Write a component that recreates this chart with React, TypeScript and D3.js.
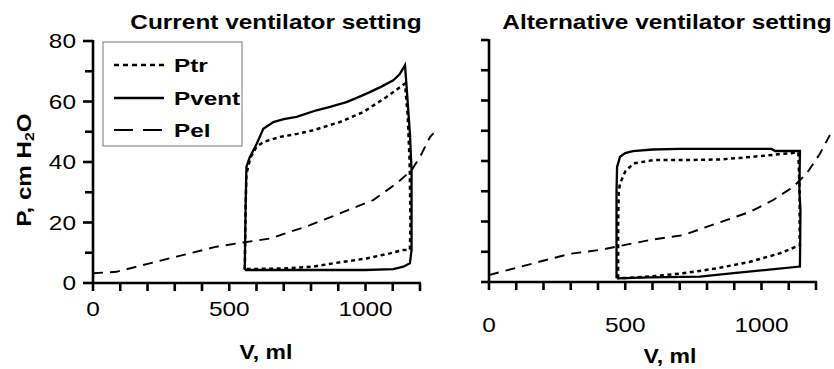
import React from "react";
import * as d3 from "d3";

// ---------- Data ----------
// Left panel: Current ventilator setting
const leftPventV = [557, 560, 563, 575, 600, 625, 662, 700, 747, 820, 870, 930, 970, 1016, 1060, 1102, 1125, 1145, 1150, 1163, 1169, 1169, 1163, 1139, 1102, 1000, 800, 557];
const leftPventP = [4.3, 25, 38.4, 41.5, 45.9, 51, 53.2, 54.2, 54.9, 57.1, 58.2, 59.8, 61.3, 63.1, 65, 67, 69, 72, 65.9, 49.4, 37.3, 10.9, 6.5, 5.4, 4.6, 4.3, 4.3, 4.3];

const leftPtrV = [557, 560, 563, 578, 600, 625, 686, 750, 808, 906, 992, 1077, 1145, 1155, 1162, 1165, 1163, 1139, 1090, 1003, 881, 808, 700, 557];
const leftPtrP = [4.6, 25, 36, 41.5, 45, 46.6, 48.3, 49.3, 50.5, 53.2, 56.5, 61.5, 65.9, 55, 40, 20, 11, 10.9, 9.8, 8.1, 6.5, 5.4, 4.8, 4.6];

const leftPelV = [0, 86, 208, 306, 453, 551, 650, 796, 906, 1028, 1114, 1169, 1200, 1237, 1250];
const leftPelP = [3.2, 3.7, 6.5, 8.7, 12.0, 13.4, 14.7, 19.1, 23, 27.4, 32.9, 37.3, 41.7, 48.3, 49.5];

// Right panel: Alternative ventilator setting
const rightPventV = [468, 468, 470, 481, 500, 528, 600, 700, 900, 1037, 1050, 1141, 1139, 1143, 1141, 1019, 897, 774, 591, 469];
const rightPventP = [1.2, 30, 38, 41.4, 42.6, 43.3, 43.8, 44, 44, 44, 43.3, 43.3, 30, 23.8, 5.1, 4, 2.9, 1.8, 1.5, 1.2];

const rightPtrV = [474, 474, 476, 481, 500, 530, 603, 714, 848, 970, 1060, 1135, 1140, 1140, 1141, 1068, 958, 836, 713, 591, 474];
const rightPtrP = [1.2, 20, 30, 32.6, 36.5, 39.2, 40.3, 40.3, 40.5, 41.4, 42.2, 42.8, 30, 15, 12.2, 9.5, 6.7, 4.5, 2.9, 1.8, 1.2];

const rightPelV = [0, 113, 296, 407, 469, 591, 713, 836, 958, 1043, 1117, 1166, 1215, 1251];
const rightPelP = [2.3, 5, 9.3, 10.6, 11.7, 13.9, 15.5, 19.4, 23.2, 27.1, 31.5, 35.9, 42.5, 48.6];

const xTickLabels = [0, 500, 1000];
const yTickLabels = [0, 20, 40, 60, 80];
const xMinorTicks = d3.range(0, 1201, 100);
const yMinorTicks = d3.range(0, 81, 10);
const legendLabels = ["Ptr", "Pvent", "Pel"];

const FONT = "'Liberation Sans', Arial, Helvetica, sans-serif";
const SX = 1.22;

type Pt = [number, number];
const zip = (v: number[], p: number[]): Pt[] => v.map((x, i) => [x, p[i]]);

function SText(props: {
  x: number;
  y: number;
  anchor?: string;
  size: number;
  bold?: boolean;
  sx?: number;
  children: React.ReactNode;
}) {
  const { x, y, anchor = "start", size, bold = false, sx = SX, children } = props;
  return (
    <text
      transform={`translate(${x},${y}) scale(${sx},1)`}
      textAnchor={anchor}
      fontFamily={FONT}
      fontWeight={bold ? "bold" : "normal"}
      fontSize={size}
    >
      {children}
    </text>
  );
}

interface PanelProps {
  x0: number;
  x1: number;
  yTop: number;
  yBot: number;
  title: string;
  titleX: number;
  showYLabels: boolean;
  xLabelY: number;
  xTitleX: number;
  xTitleY: number;
  pvent: Pt[];
  ptr: Pt[];
  pel: Pt[];
}

function Panel(props: PanelProps) {
  const { x0, x1, yTop, yBot, title, titleX, showYLabels, xLabelY, xTitleX, xTitleY, pvent, ptr, pel } = props;
  const x = d3.scaleLinear().domain([0, 1200]).range([x0, x1]);
  const y = d3.scaleLinear().domain([0, 80]).range([yBot, yTop]);
  const line = d3
    .line<Pt>()
    .x((d) => x(d[0]))
    .y((d) => y(d[1]));

  return (
    <g>
      <SText x={titleX} y={29} anchor="middle" size={20} bold>
        {title}
      </SText>
      {/* data */}
      <path d={line(pel) || ""} fill="none" stroke="#000" strokeWidth={1.9} strokeDasharray="10,7" />
      <path d={line(ptr) || ""} fill="none" stroke="#000" strokeWidth={2.5} strokeDasharray="4,3.5" />
      <path d={line(pvent) || ""} fill="none" stroke="#000" strokeWidth={2.3} />
      {/* axes */}
      <line x1={x0} x2={x0} y1={yTop - 1} y2={yBot + 1} stroke="#000" strokeWidth={2.6} />
      <line x1={x0 - 1} x2={x1 + 1} y1={yBot} y2={yBot} stroke="#000" strokeWidth={2.6} />
      {yMinorTicks.map((t) => (
        <line
          key={"yt" + t}
          x1={x0 - (showYLabels && t % 20 === 0 ? 10 : 8)}
          x2={x0}
          y1={y(t)}
          y2={y(t)}
          stroke="#000"
          strokeWidth={2.6}
        />
      ))}
      {xMinorTicks.map((t) => (
        <line key={"xt" + t} x1={x(t)} x2={x(t)} y1={yBot} y2={yBot + 8} stroke="#000" strokeWidth={2.6} />
      ))}
      {showYLabels &&
        yTickLabels.map((t) => (
          <SText key={"yl" + t} x={x0 - 17} y={y(t) + 7.2} anchor="end" size={20}>
            {t}
          </SText>
        ))}
      {xTickLabels.map((t) => (
        <SText key={"xl" + t} x={x(t)} y={xLabelY} anchor="middle" size={20}>
          {t}
        </SText>
      ))}
      <SText x={xTitleX} y={xTitleY} anchor="middle" size={20} bold sx={1.15}>
        V, ml
      </SText>
    </g>
  );
}

export default function App() {
  const legendX = 103;
  const legendY = 42;
  const rowY = [65, 98, 130];
  return (
    <svg width={834} height={369} style={{ position: "absolute", left: 0, top: 0, background: "#fff" }}>
      <rect x={0} y={0} width={834} height={369} fill="#fff" />
      <Panel
        x0={93}
        x1={420}
        yTop={41}
        yBot={283}
        title="Current ventilator setting"
        titleX={276}
        showYLabels={true}
        xLabelY={316}
        xTitleX={266}
        xTitleY={359}
        pvent={zip(leftPventV, leftPventP)}
        ptr={zip(leftPtrV, leftPtrP)}
        pel={zip(leftPelV, leftPelP)}
      />
      <Panel
        x0={489}
        x1={816}
        yTop={40}
        yBot={282}
        title="Alternative ventilator setting"
        titleX={667}
        showYLabels={false}
        xLabelY={331.5}
        xTitleX={670}
        xTitleY={363}
        pvent={zip(rightPventV, rightPventP)}
        ptr={zip(rightPtrV, rightPtrP)}
        pel={zip(rightPelV, rightPelP)}
      />
      {/* y axis title */}
      <text
        transform="translate(31,170) rotate(-90)"
        textAnchor="middle"
        fontFamily={FONT}
        fontWeight="bold"
        fontSize={20}
        textLength={113}
        lengthAdjust="spacingAndGlyphs"
      >
        P, cm H<tspan fontSize={13} dy={3}>2</tspan>
        <tspan dy={-3}>O</tspan>
      </text>
      {/* legend */}
      <rect x={legendX} y={legendY} width={139} height={104} fill="#fff" stroke="#777" strokeWidth={1} />
      <line x1={114} x2={164} y1={rowY[0]} y2={rowY[0]} stroke="#000" strokeWidth={2.6} strokeDasharray="5,4" />
      <line x1={114} x2={164} y1={rowY[1]} y2={rowY[1]} stroke="#000" strokeWidth={2.4} />
      <line x1={114} x2={164} y1={rowY[2]} y2={rowY[2]} stroke="#000" strokeWidth={2.2} strokeDasharray="19,10" />
      {legendLabels.map((l, i) => (
        <SText key={l} x={174} y={rowY[i] + 7} size={19} bold sx={1.28}>
          {l}
        </SText>
      ))}
    </svg>
  );
}
